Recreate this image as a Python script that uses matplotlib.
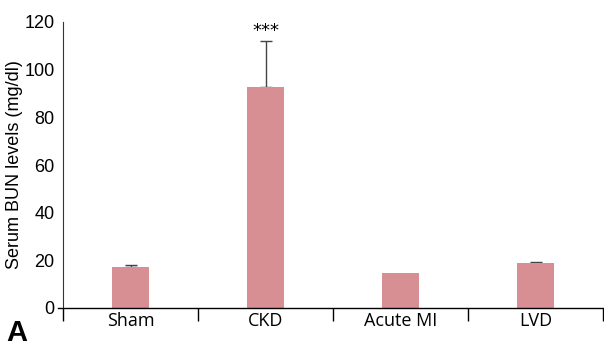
import numpy as np
import matplotlib
matplotlib.use("Agg")
from matplotlib import pyplot as plt

# groups and values
groups = ["Sham", "CKD", "Acute MI", "LVD"]
bun = [17.2, 92.7, 14.7, 18.9]
err = [0.8, 19.3, 0.0, 0.4]
stars = ["", "***", "", ""]

fig = plt.figure(figsize=(6.04, 3.46), dpi=100)
ax = fig.add_axes([63/604, 1-308/346, (603-63)/604, (308-22)/346])

x = np.arange(len(groups))
ax.bar(x, bun, width=0.28, color="#d88f93", zorder=2)
has_err = np.array(err) > 0
ax.errorbar(x[has_err], np.array(bun)[has_err],
            yerr=[np.zeros(has_err.sum()), np.array(err)[has_err]], fmt="none",
            ecolor="#444444", elinewidth=1, capsize=4, capthick=1, zorder=1)

for xi, b, e, s in zip(x, bun, err, stars):
    if s:
        ax.text(xi, b + e + 0.5, s, ha="center", va="bottom", fontsize=13,
                family="DejaVu Sans")

ax.set_xlim(-0.5, len(groups) - 0.5)
ax.set_ylim(0, 120)
ax.set_yticks(range(0, 121, 20))
ax.tick_params(axis="y", length=0, labelsize=13, pad=6)
for t in ax.get_yticklabels():
    t.set_family("Liberation Sans")

ax.set_xticks(x)
ax.set_xticklabels(groups, family="Open Sans", fontsize=13, fontweight="medium")
ax.tick_params(axis="x", which="major", length=0, pad=3)
ax.set_xticks(np.arange(-0.5, len(groups)), minor=True)
ax.tick_params(axis="x", which="minor", direction="out", length=9, width=1)

for sp in ["top", "right"]:
    ax.spines[sp].set_visible(False)
ax.spines["left"].set_linewidth(0.8)
ax.spines["left"].set_color("#333333")
ax.spines["bottom"].set_linewidth(1)
ax.spines["bottom"].set_bounds(-0.54, len(groups) - 0.5)

ax.set_ylabel("Serum BUN levels (mg/dl)", family="Liberation Sans",
              fontsize=13)
ax.yaxis.set_label_coords(-0.074, 0.5)
fig.text(6/604, 1-341/346, "A", fontsize=21, fontweight="bold",
         family="Liberation Sans", va="baseline")

fig.savefig("out.png", dpi=100)
